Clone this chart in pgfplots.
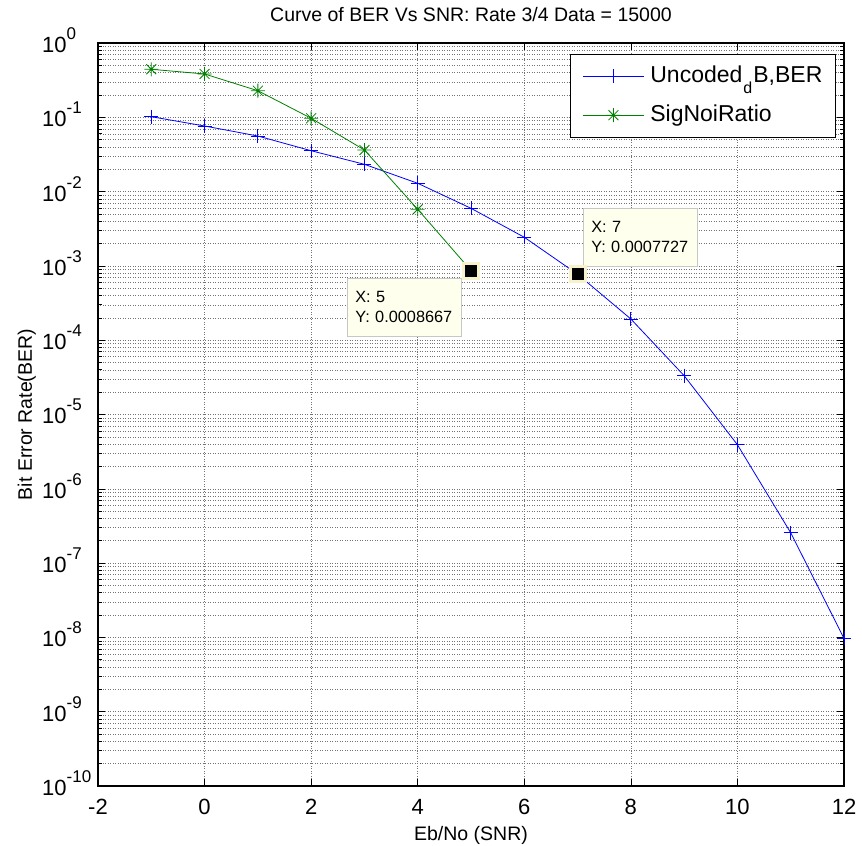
\documentclass[border=0pt]{standalone}
\usepackage{pgfplots}
\pgfplotsset{compat=1.18}
\usepackage{fontspec}
\setmainfont{Liberation Sans}
\definecolor{mblue}{rgb}{0,0,1}
\definecolor{mgreen}{rgb}{0,0.5,0}
\definecolor{tipbg}{rgb}{1,1,0.93}
\definecolor{tipedge}{rgb}{0.78,0.78,0.78}
\definecolor{tipmk}{rgb}{0.97,0.95,0.8}
\pgfdeclareplotmark{mstar}{%
  \pgfpathmoveto{\pgfqpoint{-\pgfplotmarksize}{0pt}}\pgfpathlineto{\pgfqpoint{\pgfplotmarksize}{0pt}}%
  \pgfpathmoveto{\pgfqpoint{0pt}{-\pgfplotmarksize}}\pgfpathlineto{\pgfqpoint{0pt}{\pgfplotmarksize}}%
  \pgfpathmoveto{\pgfqpoint{-.707\pgfplotmarksize}{-.707\pgfplotmarksize}}\pgfpathlineto{\pgfqpoint{.707\pgfplotmarksize}{.707\pgfplotmarksize}}%
  \pgfpathmoveto{\pgfqpoint{-.707\pgfplotmarksize}{.707\pgfplotmarksize}}\pgfpathlineto{\pgfqpoint{.707\pgfplotmarksize}{-.707\pgfplotmarksize}}%
  \pgfusepathqstroke}
\newcommand{\tp}[1]{10\raisebox{13bp}{\fontsize{17bp}{17bp}\selectfont #1}}
\pgfplotstableread{
x y
-1 0.1019
0 0.0764
1 0.0560
2 0.0355
3 0.0233
4 0.01294
5 0.00596
6 0.00243
7 0.0007727
8 1.93e-4
9 3.33e-5
10 3.92e-6
11 2.56e-7
12 9.7e-9
}\uncoded
\pgfplotstableread{
x y
-1 0.443
0 0.383
1 0.228
2 0.097
3 0.0363
4 0.00578
5 0.0008667
}\signoi
\begin{document}
\begin{tikzpicture}
\useasboundingbox (-98bp,-60bp) rectangle (764bp,786bp);
\begin{axis}[
  scale only axis, width=746bp, height=743bp,
  at={(0,0)}, anchor=south west,
  ymode=log, xmin=-2, xmax=12, ymin=1e-10, ymax=1,
  xtick={-2,0,2,4,6,8,10,12},
  xticklabels={-2,0,2,4,6,8,10,12},
  ytick={1e-10,1e-9,1e-8,1e-7,1e-6,1e-5,1e-4,1e-3,1e-2,1e-1,1},
  yticklabels={\tp{-10},\tp{-9},\tp{-8},\tp{-7},\tp{-6},\tp{-5},\tp{-4},\tp{-3},\tp{-2},\tp{-1},\tp{0}},
  tick label style={font=\fontsize{22bp}{22bp}\selectfont},
  yticklabel style={anchor=base west, inner sep=0pt, xshift=-56bp, yshift=-9.4bp},
  xticklabel style={anchor=base, inner sep=0pt, yshift=-28bp},
  tick align=inside,
  major tick length=7bp, minor tick length=4bp,
  tick style={black, line width=0.6bp},
  axis line style={line width=1.3bp},
  xmajorgrids, ymajorgrids, yminorgrids,
  grid style={dotted, black!55, line width=0.5bp},
  major grid style={dotted, black!55, line width=0.5bp},
  minor grid style={dotted, black!55, line width=0.5bp},
  title={Curve of BER Vs SNR: Rate 3/4 Data = 15000},
  title style={at={(axis description cs:0.5,1.0215)}, anchor=base, inner sep=0pt, font=\fontsize{19.5bp}{19.5bp}\selectfont},
  xlabel={Eb/No (SNR)},
  xlabel style={at={(axis description cs:0.5,-0.0727)}, anchor=base, inner sep=0pt, font=\fontsize{19.5bp}{19.5bp}\selectfont},
  ylabel={Bit Error Rate(BER)},
  ylabel style={at={(axis description cs:-0.0885,0.5)}, anchor=base, inner sep=0pt, font=\fontsize{19.5bp}{19.5bp}\selectfont},
  clip=false,
  legend style={at={(axis description cs:0.988,0.9852)}, anchor=north east,
    inner xsep=12.5bp, inner ysep=11bp, row sep=17bp,
    cells={anchor=west},
    nodes={inner sep=0pt, text height=17bp, text depth=5bp, font=\fontsize{23bp}{23bp}\selectfont},
    /tikz/every odd column/.append style={column sep=6bp}},
  legend cell align=left,
  legend image code/.code={\draw[mark repeat=2,mark phase=2] plot coordinates {(0bp,0bp)(30.5bp,0bp)(61bp,0bp)};},
]
\addplot[color=mblue, line width=0.8bp, mark=+, mark size=7bp, mark options={line width=0.8bp}] table[x=x,y=y] {\uncoded};
\addlegendentry{Uncoded\hspace{1bp}\raisebox{-11.5bp}{\fontsize{16bp}{16bp}\selectfont d}\hspace{1bp}B,BER}
\addplot[color=mgreen, line width=0.8bp, mark=mstar, mark size=7bp, mark options={line width=0.8bp}] table[x=x,y=y] {\signoi};
\addlegendentry{SigNoiRatio}
\addplot[only marks, mark=square*, mark size=7.5bp, mark options={fill=black, draw=tipmk, line width=3bp}, forget plot] coordinates {(5,0.0008667) (7,0.0007727)};
\node[anchor=north west, fill=tipbg, draw=tipedge, line width=0.6bp, inner xsep=8bp, inner ysep=0pt,
      minimum width=114bp, minimum height=58bp, text width=98bp, align=left,
      font=\fontsize{16.3bp}{20bp}\selectfont] at (axis cs:2.673,6.87e-4) {X: 5\\Y: 0.0008667};
\node[anchor=north west, fill=tipbg, draw=tipedge, line width=0.6bp, inner xsep=8bp, inner ysep=0pt,
      minimum width=114bp, minimum height=58bp, text width=98bp, align=left,
      font=\fontsize{16.3bp}{20bp}\selectfont] at (axis cs:7.102,6.01e-3) {X: 7\\Y: 0.0007727};
\end{axis}
\end{tikzpicture}
\end{document}
